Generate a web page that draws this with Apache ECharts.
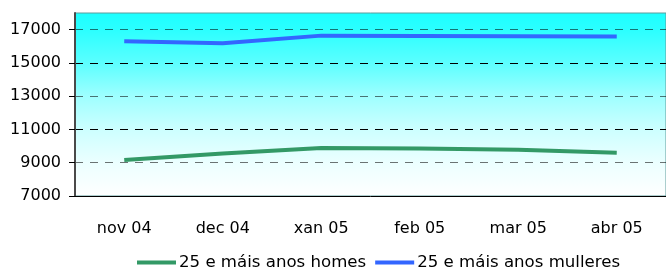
<!DOCTYPE html>
<html><head><meta charset="utf-8">
<script src="https://cdn.jsdelivr.net/npm/echarts@6/dist/echarts.min.js"></script>
<style>html,body{margin:0;padding:0;background:#fff}#c{width:666px;height:271px}</style>
</head><body><div id="c"></div>
<script>
const categories = ['nov 04','dec 04','xan 05','feb 05','mar 05','abr 05'];
const homes = [9160, 9560, 9880, 9860, 9780, 9600];
const mulleres = [16300, 16180, 16640, 16620, 16600, 16580];
const yTicks = [7000, 9000, 11000, 13000, 15000, 17000];
const seriesNames = ['25 e máis anos homes', '25 e máis anos mulleres'];

const chart = echarts.init(document.getElementById('c'));
const font = 'DejaVu Sans';
chart.setOption({
  animation: false,
  grid: {
    left: 75, top: 13, bottom: 75, right: -12,
    show: true, borderColor: '#5f9c9c', borderWidth: 1,
    backgroundColor: new echarts.graphic.LinearGradient(0, 0, 0, 1, [
      {offset: 0, color: 'rgb(28,255,255)'},
      {offset: 0.09, color: 'rgb(42,255,255)'},
      {offset: 0.27, color: 'rgb(90,255,255)'},
      {offset: 0.455, color: 'rgb(158,255,255)'},
      {offset: 0.64, color: 'rgb(205,255,255)'},
      {offset: 0.82, color: 'rgb(236,255,255)'},
      {offset: 1, color: 'rgb(255,255,255)'}
    ])
  },
  legend: {
    top: 249, left: 132,
    itemWidth: 39, itemHeight: 4, itemGap: 9,
    icon: 'rect',
    textStyle: {fontFamily: font, fontSize: 16.6, color: '#000', padding: [0,0,0,-2]},
    data: seriesNames
  },
  xAxis: {
    type: 'category', data: categories, boundaryGap: true,
    axisLine: {lineStyle: {color: '#000', width: 1}},
    axisTick: {length: 5, lineStyle: {color: '#000'}},
    axisLabel: {fontFamily: font, fontSize: 16, color: '#000', margin: 25}
  },
  yAxis: {
    type: 'value', min: 7000, max: 18000, interval: 1000,
    axisLine: {show: true, lineStyle: {color: '#4a4a4a', width: 2}},
    axisTick: {show: true, length: 6, customValues: yTicks, lineStyle: {color: '#000'}},
    axisLabel: {fontFamily: font, fontSize: 16, color: '#000', margin: 14, customValues: yTicks,
                formatter: v => String(v)},
    splitLine: {show: true, lineStyle: {color: ['#000', 'rgba(0,0,0,0.55)'], type: [8, 7], width: 1}}
  },
  series: [
    {name: seriesNames[0], type: 'line', data: homes, symbol: 'none',
     lineStyle: {color: '#339966', width: 4}, itemStyle: {color: '#339966'}},
    {name: seriesNames[1], type: 'line', data: mulleres, symbol: 'none',
     lineStyle: {color: '#3366ff', width: 4}, itemStyle: {color: '#3366ff'}}
  ]
});
</script></body></html>
